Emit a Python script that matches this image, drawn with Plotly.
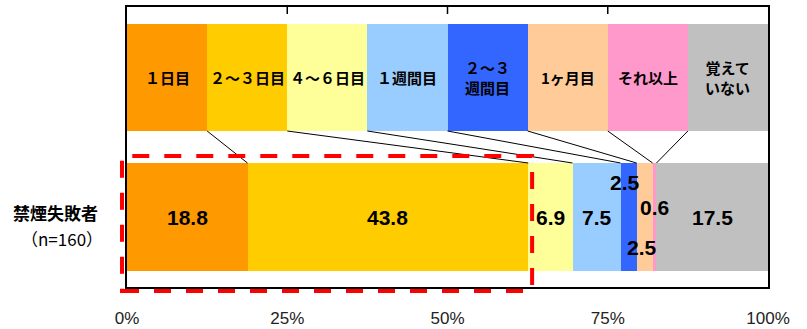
import plotly.graph_objects as go

categories = ["１日目", "２～３日目", "４～６日目", "１週間目", "２～３<br>週間目", "1ヶ月目", "それ以上", "覚えて<br>いない"]
values = [18.8, 43.8, 6.9, 7.5, 2.5, 2.5, 0.6, 17.5]
colors = ["#FF9900", "#FFCC00", "#FFFF99", "#99CCFF", "#3366FF", "#FFCC99", "#FF99CC", "#C0C0C0"]
row_label = "禁煙失敗者"
n_label = "（n=160）"
tick_vals = [0, 25, 50, 75, 100]
tick_text = ["0%", "25%", "50%", "75%", "100%"]

# layout geometry (y axis in pixel-like units, top=7, bottom=287)
BAR_Y, BAR_W = 217, 108
KEY_Y, KEY_W = 77.5, 107
KEY_STEP = 100 / len(categories)
label_dy = [0, 0, 0, 0, -35, 30, -10, 0]
label_dx = [0, 0, 0, 0, -4, -3, 0, 0]

fig = go.Figure()
for i, (c, v, col) in enumerate(zip(categories, values, colors)):
    fig.add_trace(go.Bar(x=[v], y=[BAR_Y], width=BAR_W, orientation="h",
                         marker=dict(color=col, line=dict(width=0)), hoverinfo="skip"))
    fig.add_trace(go.Bar(x=[KEY_STEP], y=[KEY_Y], width=KEY_W, orientation="h",
                         marker=dict(color=col, line=dict(width=0)), hoverinfo="skip"))

shapes = []
annotations = []
cum = 0
for i, (c, v) in enumerate(zip(categories, values)):
    center = cum + v / 2
    annotations.append(dict(x=center, y=BAR_Y, xref="x", yref="y", text=f"{v:.1f}",
                            showarrow=False, xshift=label_dx[i], yshift=-label_dy[i],
                            font=dict(family="Liberation Sans", size=21, color="black", weight="bold")))
    annotations.append(dict(x=KEY_STEP * (i + 0.5), y=KEY_Y, xref="x", yref="y", text=c,
                            showarrow=False,
                            font=dict(family="Noto Sans CJK JP", size=15, color="black", weight="bold")))
    cum += v
    if i < len(categories) - 1:
        shapes.append(dict(type="line", xref="x", yref="y", x0=KEY_STEP * (i + 1), y0=KEY_Y + KEY_W / 2,
                           x1=cum, y1=BAR_Y - BAR_W / 2, line=dict(color="black", width=1)))

# top inner ticks
for t in tick_vals[1:-1]:
    shapes.append(dict(type="line", xref="x", yref="paper", x0=t, x1=t, y0=1, y1=1 - 7 / 280,
                       line=dict(color="black", width=1.5)))

# red dashed highlight rectangle
shapes.append(dict(type="rect", xref="paper", yref="paper", x0=-0.0078, x1=0.632, y0=-0.0143, y1=0.468,
                   line=dict(color="#FF0000", width=4, dash="17px,15px"), fillcolor="rgba(0,0,0,0)"))

annotations.append(dict(x=55, y=212, xref="paper", yref="y", text=row_label, showarrow=False,
                        xanchor="center", font=dict(family="Noto Sans CJK JP", size=17, color="black", weight="bold")))
annotations.append(dict(x=62, y=238, xref="paper", yref="y", text=n_label, showarrow=False,
                        xanchor="center", font=dict(family="Noto Sans CJK JP", size=17, color="black")))
# convert pixel x for the row labels to paper units
for a in annotations[-2:]:
    a["x"] = (a["x"] - 127) / 641

fig.update_layout(
    width=807, height=329,
    margin=dict(l=127, r=39, t=7, b=42, autoexpand=False),
    barmode="stack", showlegend=False,
    plot_bgcolor="white", paper_bgcolor="white",
    shapes=shapes, annotations=annotations,
    xaxis=dict(range=[0, 100], showgrid=False, zeroline=False, showline=True, linecolor="black",
               linewidth=2, mirror=True, ticks="", tickvals=tick_vals, ticktext=tick_text,
               automargin=False,
               ticklabelstandoff=15, tickfont=dict(family="Liberation Sans", size=17, color="#222")),
    yaxis=dict(range=[287, 7], showgrid=False, zeroline=False, showline=True, linecolor="black",
               linewidth=2, mirror=True, ticks="", showticklabels=False, automargin=False),
)

fig.write_html("out.html")
